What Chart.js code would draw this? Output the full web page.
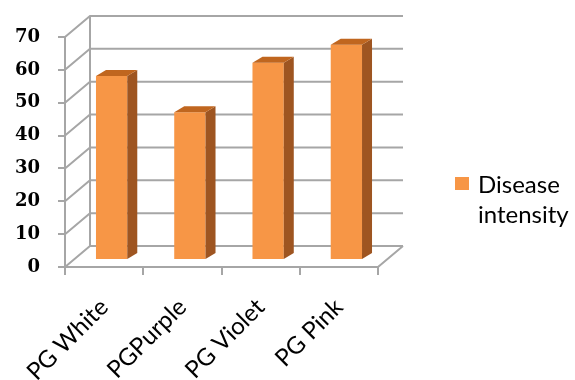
<!DOCTYPE html>
<html>
<head>
<meta charset="utf-8">
<script src="https://cdn.jsdelivr.net/npm/chart.js@4"></script>
<style>
  html, body { margin: 0; padding: 0; background: #fff; }
  #wrap { width: 575px; height: 380px; }
</style>
</head>
<body>
<div id="wrap"><canvas id="chart"></canvas></div>
<script>
const categories = ['PG White', 'PGPurple', 'PG Violet', 'PG Pink'];
const intensity = [56, 45, 60, 65.5];
const yMax = 70;
const yStep = 10;
const legendLines = ['Disease', 'intensity'];

const gris = '#a6a6a6';
const naranja = '#f79646';
const lado = '#9e5521';
const techo = '#c0661f';

// 3D look: bars sit half way into the box, back wall further in
const desplazaBarra = { x: 7.5, y: -7 };
const fondoBarra = { x: 10, y: -6 };
const fondoPared = { x: 25, y: -21 };

const caja3d = {
    id: 'caja3d',
    beforeDatasetsDraw(chart) {
        const { ctx, chartArea, scales } = chart;
        const y = scales.y;
        const izq = chartArea.left, der = chartArea.right;
        ctx.save();
        ctx.strokeStyle = gris;
        ctx.lineWidth = 2;
        ctx.beginPath();
        for (let v = 0; v <= yMax; v += yStep) {
            const py = y.getPixelForValue(v);
            ctx.moveTo(izq, py);
            ctx.lineTo(izq + fondoPared.x, py + fondoPared.y);
            ctx.lineTo(der + fondoPared.x, py + fondoPared.y);
        }
        const y0 = y.getPixelForValue(0);
        const yTop = y.getPixelForValue(yMax);
        ctx.moveTo(izq + fondoPared.x, yTop + fondoPared.y);
        ctx.lineTo(izq + fondoPared.x, y0 + fondoPared.y);
        ctx.moveTo(der, y0);
        ctx.lineTo(der + fondoPared.x, y0 + fondoPared.y);
        ctx.stroke();
        ctx.restore();

        ctx.save();
        ctx.translate(desplazaBarra.x, desplazaBarra.y);
    },
    afterDatasetsDraw(chart) {
        const { ctx } = chart;
        chart.getDatasetMeta(0).data.forEach(bar => {
            const l = bar.x - bar.width / 2, r = bar.x + bar.width / 2;
            const t = bar.y, b = bar.base;
            ctx.fillStyle = lado;
            ctx.beginPath();
            ctx.moveTo(r, t);
            ctx.lineTo(r + fondoBarra.x, t + fondoBarra.y);
            ctx.lineTo(r + fondoBarra.x, b + fondoBarra.y);
            ctx.lineTo(r, b);
            ctx.closePath();
            ctx.fill();
            ctx.fillStyle = techo;
            ctx.beginPath();
            ctx.moveTo(l, t);
            ctx.lineTo(l + fondoBarra.x, t + fondoBarra.y);
            ctx.lineTo(r + fondoBarra.x, t + fondoBarra.y);
            ctx.lineTo(r, t);
            ctx.closePath();
            ctx.fill();
        });
        ctx.restore();
    },
    afterDraw(chart) {
        const { ctx } = chart;
        ctx.save();
        ctx.fillStyle = naranja;
        ctx.fillRect(455, 177, 14, 13);
        ctx.fillStyle = '#000';
        ctx.font = '24px Lato';
        ctx.textBaseline = 'alphabetic';
        legendLines.forEach((txt, i) => ctx.fillText(txt, 478, 193 + i * 30));
        ctx.restore();
    }
};

new Chart(document.getElementById('chart'), {
    type: 'bar',
    data: {
        labels: categories,
        datasets: [{
            label: legendLines.join(' '),
            data: intensity,
            backgroundColor: naranja,
            categoryPercentage: 1,
            barPercentage: 0.4
        }]
    },
    options: {
        responsive: true,
        maintainAspectRatio: false,
        animation: false,
        layout: { padding: { left: 0, top: 37, right: 197, bottom: 0 } },
        plugins: {
            legend: { display: false },
            tooltip: { enabled: false }
        },
        scales: {
            x: {
                afterFit: s => { s.height = 113; },
                grid: { drawOnChartArea: false, color: gris, lineWidth: 2, tickLength: 8, offset: true },
                border: { color: gris, width: 2 },
                ticks: { color: '#000', font: { family: 'Lato', size: 24 }, minRotation: 45, maxRotation: 45, padding: 18 }
            },
            y: {
                min: 0,
                max: yMax,
                afterFit: s => { s.width = 65; },
                grid: { drawOnChartArea: false, color: gris, lineWidth: 2, tickLength: 7 },
                border: { color: gris, width: 2 },
                ticks: { stepSize: yStep, color: '#000', font: { family: 'DejaVu Serif', size: 18, weight: 'bold' }, padding: 18 }
            }
        }
    },
    plugins: [caja3d]
});
</script>
</body>
</html>
